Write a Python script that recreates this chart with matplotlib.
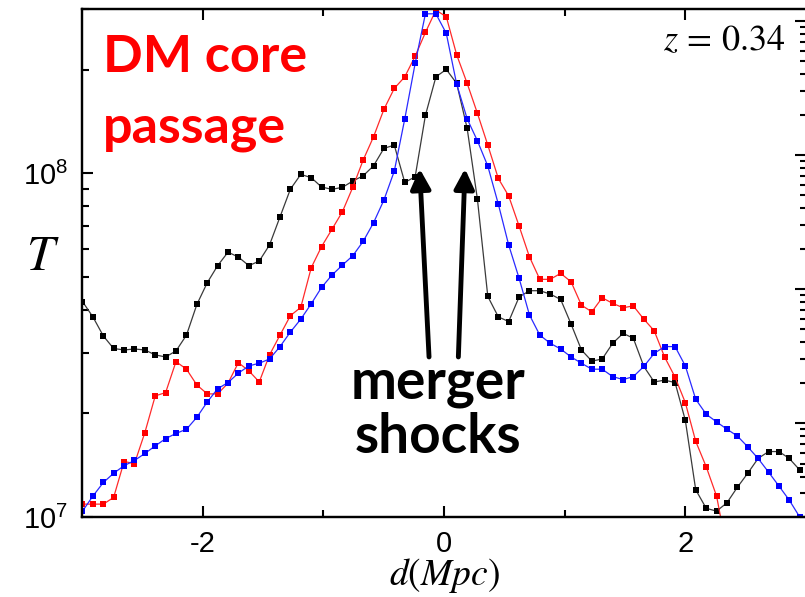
import numpy as np
import matplotlib
matplotlib.use("Agg")
import matplotlib.pyplot as plt
from matplotlib.ticker import LogLocator, NullFormatter

plt.rcParams.update({
    "font.family": "Liberation Sans",
    "mathtext.fontset": "stix",
    "axes.unicode_minus": False,
})

# ---------------------------------------------------------------------------
# data: distance along the merger axis (Mpc) and temperature (units of 1e7 K)
# ---------------------------------------------------------------------------
D = [-2.996, -2.910, -2.823, -2.738, -2.651, -2.565, -2.479, -2.393, -2.307, -2.221,
     -2.134, -2.048, -1.962, -1.876, -1.790, -1.704, -1.617, -1.531, -1.446, -1.359,
     -1.273, -1.187, -1.100, -1.015, -0.929, -0.842, -0.756, -0.670, -0.584, -0.498,
     -0.412, -0.325, -0.239, -0.154, -0.067, 0.019, 0.105, 0.192, 0.277, 0.363,
     0.450, 0.536, 0.622, 0.708, 0.794, 0.880, 0.967, 1.053, 1.139, 1.225,
     1.311, 1.398, 1.484, 1.569, 1.656, 1.742, 1.828, 1.915, 2.000, 2.086,
     2.173, 2.259, 2.345, 2.431, 2.517, 2.603, 2.690, 2.776, 2.861, 2.948]

T_BLACK = [4.23, 3.82, 3.36, 3.09, 3.06, 3.08, 3.06, 2.96, 2.92, 3.04,
           3.38, 4.15, 4.80, 5.38, 5.89, 5.70, 5.38, 5.55, 6.18, 7.46,
           8.98, 9.91, 9.70, 9.11, 8.97, 9.09, 9.48, 9.82, 10.50, 11.80,
           12.06, 9.39, 9.76, 14.72, 19.05, 20.02, 18.23, 13.49, 8.39, 4.38,
           3.82, 3.70, 4.36, 4.55, 4.55, 4.45, 4.29, 3.64, 3.06, 2.84,
           2.88, 3.20, 3.42, 3.31, 2.74, 2.47, 2.50, 2.46, 1.91, 1.20,
           1.06, 1.04, 1.10, 1.22, 1.34, 1.48, 1.55, 1.55, 1.48, 1.37]

T_RED = [1.09, 1.09, 1.09, 1.14, 1.45, 1.43, 1.76, 2.25, 2.30, 2.83,
         2.69, 2.42, 2.28, 2.28, 2.45, 2.81, 2.66, 2.47, 2.96, 3.38,
         3.85, 4.07, 5.31, 6.11, 6.86, 7.72, 9.09, 10.91, 12.75, 15.32,
         17.63, 19.05, 21.88, 25.64, 29.78, 28.48, 22.08, 18.23, 14.92, 12.06,
         9.65, 8.58, 7.02, 5.71, 4.91, 4.91, 5.11, 4.83, 4.13, 3.95,
         4.34, 4.18, 4.06, 4.11, 3.76, 3.48, 2.92, 2.55, 2.15, 1.66,
         1.40, 1.15, 0.80]

T_BLUE = [1.04, 1.15, 1.26, 1.34, 1.41, 1.46, 1.53, 1.61, 1.69, 1.75,
          1.80, 1.95, 2.16, 2.36, 2.46, 2.62, 2.75, 2.80, 2.88, 3.13,
          3.45, 3.76, 4.17, 4.65, 5.05, 5.40, 5.75, 6.33, 7.17, 8.35,
          10.13, 14.38, 20.84, 29.05, 29.05, 25.48, 18.14, 14.38, 12.41, 10.48,
          8.13, 6.18, 4.95, 3.87, 3.38, 3.20, 3.08, 2.92, 2.80, 2.69,
          2.69, 2.56, 2.51, 2.56, 2.74, 2.99, 3.13, 3.13, 2.75, 2.20,
          1.99, 1.89, 1.80, 1.72, 1.60, 1.48, 1.35, 1.23, 1.12, 1.00]

SCALE = 1e7

# ---------------------------------------------------------------------------
# figure
# ---------------------------------------------------------------------------
W, H = 805, 597
fig = plt.figure(figsize=(W / 100, H / 100), dpi=100)
ax = fig.add_axes([82 / W, 1 - 517 / H, 724 / W, 508 / H])

series = [(T_BLACK, "#000000", "#3a3a3a"),
          (T_RED, "#ff0000", "#ff2a2a"),
          (T_BLUE, "#0000ff", "#2a2aff")]
for vals, mcol, lcol in series:
    t = np.array(vals) * SCALE
    ax.plot(D[:len(vals)], t, color=lcol, lw=0.9, marker="s", ms=4.4,
            mfc=mcol, mec=mcol, mew=0)

ax.set_yscale("log")
ax.set_xlim(-3, 3)
ax.set_ylim(1e7, 3e8)
ax.set_xticks([-2, 0, 2])
ax.set_xticks([-1, 1], minor=True)
ax.yaxis.set_minor_locator(LogLocator(base=10, subs=range(2, 10)))
ax.yaxis.set_minor_formatter(NullFormatter())

ax.tick_params(which="both", direction="in", top=True, right=False,
               width=1.5, labelsize=21)
ax.tick_params(which="major", length=8)
ax.tick_params(which="minor", length=5)
ax.tick_params(axis="x", pad=9)
ax.tick_params(axis="y", pad=10)
for sp in ax.spines.values():
    sp.set_linewidth(1.6)

# unlabeled secondary log scale on the right
ax2 = ax.twinx()
ax2.set_yscale("log")
ax2.set_ylim(10 ** -0.70, 10 ** 3.09)
ax2.yaxis.set_minor_locator(LogLocator(base=10, subs=range(2, 10)))
ax2.yaxis.set_major_formatter(NullFormatter())
ax2.yaxis.set_minor_formatter(NullFormatter())
ax2.tick_params(which="both", direction="in", width=1.5)
ax2.tick_params(which="major", length=8)
ax2.tick_params(which="minor", length=4)
for sp in ax2.spines.values():
    sp.set_linewidth(1.6)

ax.set_xlabel(r"$d(Mpc)$", fontsize=27, labelpad=-1)
ax.set_ylabel(r"$T$", fontsize=36, rotation=0, ha="center", va="center")
ax.yaxis.set_label_coords(-39 / 724, 260 / 508)

# merger shock arrows
for tail, head in [((-0.124, 2.92e7), (-0.202, 1.03e8)),
                   ((0.119, 2.92e7), (0.174, 1.03e8))]:
    ax.annotate("", xy=head, xytext=tail,
                arrowprops=dict(arrowstyle="-|>,head_length=0.6,head_width=0.3",
                                lw=3.5, color="black", shrinkA=0, shrinkB=0,
                                mutation_scale=20),
                zorder=5)

# annotations
red_txt = dict(family="Lato", fontweight="bold", fontsize=37.5, color="#ff0000")
blk_txt = dict(family="Lato", fontweight="bold", fontsize=39.5, color="black")
fig.text(103 / W, 1 - 72 / H, "DM core", ha="left", va="baseline", **red_txt)
fig.text(103 / W, 1 - 142 / H, "passage", ha="left", va="baseline", **red_txt)
fig.text(438 / W, 1 - 398 / H, "merger", ha="center", va="baseline", **blk_txt)
fig.text(438 / W, 1 - 453 / H, "shocks", ha="center", va="baseline", **blk_txt)
fig.text(785 / W, 1 - 50 / H, r"$z\,=\,0.34$", ha="right", va="baseline", fontsize=26)

fig.savefig("out.png", dpi=100)
